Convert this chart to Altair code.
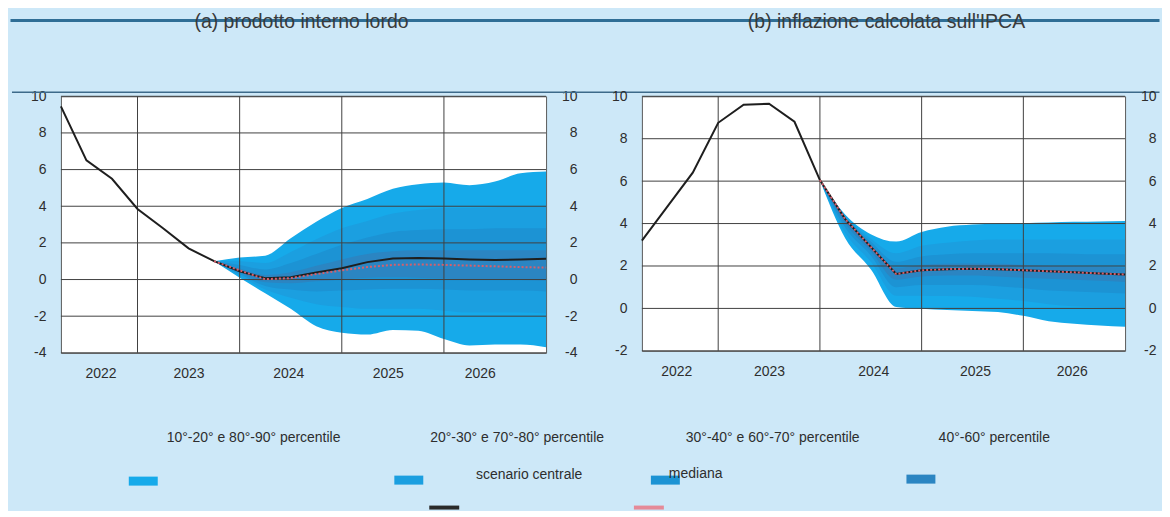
import altair as alt
import pandas as pd

# ---------------- data ----------------
quarters = list(range(20))            # 20 quarterly observations
years = ["2022", "2023", "2024", "2025", "2026"]
year_bounds = [3, 7, 11, 15]          # vertical grid lines (year boundaries)
a_year_label_pos = [1.55, 5.0, 8.9, 12.8, 16.4]
b_year_label_pos = [1.35, 5.0, 9.1, 13.1, 16.9]
a_yticks = [-4, -2, 0, 2, 4, 6, 8, 10]
b_yticks = [-2, 0, 2, 4, 6, 8, 10]

titles = ["(a) prodotto interno lordo", "(b) inflazione calcolata sull'IPCA"]

# (a) GDP
a_central = [9.45, 6.5, 5.5, 3.85, 2.8, 1.7, 1.0, 0.45, 0.07, 0.12, 0.38, 0.62,
             0.95, 1.15, 1.18, 1.15, 1.1, 1.06, 1.1, 1.14]
a_start = 6
a_median = [1.0, 0.5, 0.02, 0.08, 0.3, 0.5, 0.68, 0.8, 0.82, 0.8, 0.76, 0.72, 0.68, 0.65]
a_p10 = [1.0, 0.1, -0.75, -1.6, -2.55, -2.9, -3.0, -2.75, -2.8, -3.25, -3.6, -3.55, -3.55, -3.7]
a_p20 = [1.0, 0.2, -0.55, -1.0, -1.35, -1.5, -1.6, -1.6, -1.6, -1.7, -1.8, -1.8, -1.8, -1.85]
a_p30 = [1.0, 0.3, -0.35, -0.55, -0.65, -0.6, -0.55, -0.5, -0.5, -0.55, -0.6, -0.6, -0.6, -0.65]
a_p40 = [1.0, 0.4, -0.15, -0.2, -0.1, 0.0, 0.1, 0.12, 0.1, 0.05, 0.0, 0.0, -0.02, -0.05]
a_p60 = [1.0, 0.6, 0.25, 0.4, 0.75, 1.1, 1.4, 1.55, 1.6, 1.6, 1.6, 1.6, 1.6, 1.6]
a_p70 = [1.0, 0.8, 0.55, 0.9, 1.4, 1.9, 2.3, 2.6, 2.7, 2.75, 2.75, 2.8, 2.8, 2.8]
a_p80 = [1.0, 1.0, 0.9, 1.5, 2.2, 2.8, 3.2, 3.6, 3.8, 3.9, 3.9, 3.95, 4.0, 4.0]
a_p90 = [1.0, 1.2, 1.3, 2.25, 3.15, 3.9, 4.4, 4.95, 5.2, 5.3, 5.15, 5.35, 5.8, 5.9]

# (b) HICP inflation
b_central = [3.2, 4.8, 6.4, 8.75, 9.6, 9.65, 8.8, 6.05, 4.2, 2.9, 1.62, 1.8,
             1.85, 1.87, 1.85, 1.8, 1.75, 1.7, 1.65, 1.6]
b_start = 7
b_median = [6.05, 4.2, 2.9, 1.62, 1.8, 1.85, 1.87, 1.85, 1.8, 1.75, 1.7, 1.65, 1.6]
b_p10 = [6.05, 3.3, 1.85, 0.07, -0.02, -0.08, -0.12, -0.17, -0.35, -0.6, -0.72, -0.8, -0.87]
b_p20 = [6.05, 3.55, 2.2, 0.6, 0.6, 0.58, 0.55, 0.45, 0.35, 0.2, 0.1, 0.05, 0.0]
b_p30 = [6.05, 3.8, 2.5, 1.0, 1.1, 1.1, 1.1, 1.05, 0.95, 0.85, 0.8, 0.75, 0.7]
b_p40 = [6.05, 4.0, 2.7, 1.35, 1.5, 1.55, 1.55, 1.5, 1.45, 1.4, 1.35, 1.3, 1.25]
b_p60 = [6.05, 4.25, 3.0, 1.9, 2.05, 2.1, 2.12, 2.1, 2.05, 2.0, 1.98, 1.95, 1.92]
b_p70 = [6.05, 4.3, 3.15, 2.2, 2.45, 2.55, 2.6, 2.6, 2.6, 2.6, 2.58, 2.55, 2.55]
b_p80 = [6.05, 4.35, 3.3, 2.6, 2.95, 3.1, 3.2, 3.25, 3.25, 3.25, 3.25, 3.25, 3.25]
b_p90 = [6.05, 4.42, 3.5, 3.15, 3.6, 3.85, 3.95, 4.0, 4.02, 4.05, 4.08, 4.1, 4.12]

legend_band_labels = ["10°-20° e 80°-90° percentile", "20°-30° e 70°-80° percentile",
                      "30°-40° e 60°-70° percentile", "40°-60° percentile"]
legend_line_labels = ["scenario centrale", "mediana"]

# ---------------- styles / layout ----------------
BG = "#cde8f8"
FONT = "Liberation Sans"
TXT = "#2e2e2e"
GRID = "#404040"
BAND_COLORS = ["#16aaea", "#1b9fe0", "#1c93d4", "#2b85c2"]
LINE_BLACK = "#1e1e1e"
LINE_RED = "#d6606c"
HEADER_BLUE = "#2f6e96"

label_expr = "'" + years[-1] + "'"
for bnd, yr in reversed(list(zip(year_bounds, years[:-1]))):
    label_expr = f"datum.value < {bnd} ? '{yr}' : " + label_expr
ylabel_expr = "datum.value < 0 ? '-' + abs(datum.value) : '' + datum.value"

# legend layout, in pixels relative to the top-left corner of panel (a)'s plot
LEG_DY = 305
band_label_x = [193, 457, 713, 935]
band_label_y = 37
sw_x = [68, 334, 591, 847]
sw_y = [76, 75, 75, 74]
SW_W, SW_H = 29, 9
line_label_pos = [(469, 74, "center"), (609, 73, "left")]
line_sw_pos = [(369, 105), (574, 105)]
line_sw_colors = ["#2a2a2a", "#e58a98"]


def one_row(**kw):
    return pd.DataFrame({k: [v] for k, v in kw.items()})


def legend_layers():
    out = []
    for x, y, c in zip(sw_x, sw_y, BAND_COLORS):
        out.append(alt.Chart(one_row(k=0)).mark_rect(color=c).encode(
            x=alt.value(x), x2=alt.value(x + SW_W),
            y=alt.value(y + LEG_DY), y2=alt.value(y + LEG_DY + SW_H)))
    for (x, y), c in zip(line_sw_pos, line_sw_colors):
        out.append(alt.Chart(one_row(k=0)).mark_rect(color=c).encode(
            x=alt.value(x), x2=alt.value(x + 30),
            y=alt.value(y + LEG_DY), y2=alt.value(y + LEG_DY + 4)))
    for t, x in zip(legend_band_labels, band_label_x):
        out.append(alt.Chart(one_row(t=t)).mark_text(
            font=FONT, fontSize=14, color=TXT, align="center", baseline="middle"
        ).encode(text="t:N", x=alt.value(x), y=alt.value(band_label_y + LEG_DY)))
    for t, (x, y, al) in zip(legend_line_labels, line_label_pos):
        out.append(alt.Chart(one_row(t=t)).mark_text(
            font=FONT, fontSize=14, color=TXT, align=al, baseline="middle"
        ).encode(text="t:N", x=alt.value(x), y=alt.value(y + LEG_DY)))
    return out


def panel(central, start, median, pcts, ydom, yticks, xlab_pos, w, h, title, title_x, header):
    xscale = alt.Scale(domain=[0, len(central) - 1], nice=False, zero=False)
    yscale = alt.Scale(domain=ydom, nice=False, zero=False)
    xaxis = alt.Axis(values=xlab_pos, labelExpr=label_expr, ticks=False, domain=False,
                     grid=False, labelFont=FONT, labelFontSize=14, labelColor=TXT,
                     labelPadding=14, labelFlush=False, labelOverlap=False, title="")
    yleft = alt.Axis(values=yticks, orient="left", ticks=False, domain=False, grid=False,
                     labelFont=FONT, labelFontSize=14, labelColor=TXT, labelPadding=15,
                     labelFlush=False, labelExpr=ylabel_expr, title="")
    yright = alt.Axis(values=yticks, orient="right", ticks=False, domain=False, grid=False,
                      labelFont=FONT, labelFontSize=14, labelColor=TXT, labelPadding=31,
                      labelAlign="right", labelFlush=False, labelExpr=ylabel_expr, title="")
    qf = quarters[start:]
    layers = []
    pairs = [(pcts[0], pcts[7]), (pcts[1], pcts[6]), (pcts[2], pcts[5]), (pcts[3], pcts[4])]
    for k, (lo, hi) in enumerate(pairs):
        df = pd.DataFrame({"q": qf, "lo": lo, "hi": hi})
        layers.append(
            alt.Chart(df).mark_area(color=BAND_COLORS[k], opacity=1, interpolate="monotone").encode(
                x=alt.X("q:Q", scale=xscale, axis=xaxis),
                y=alt.Y("lo:Q", scale=yscale, axis=yleft if k == 0 else None),
                y2="hi:Q",
            )
        )
    # grid lines drawn over the fan
    layers.append(
        alt.Chart(pd.DataFrame({"g": yticks})).mark_rule(color=GRID, strokeWidth=1).encode(
            y=alt.Y("g:Q", scale=yscale, axis=None)
        )
    )
    layers.append(
        alt.Chart(pd.DataFrame({"q": year_bounds})).mark_rule(color=GRID, strokeWidth=1).encode(
            x=alt.X("q:Q", scale=xscale, axis=xaxis)
        )
    )
    layers.append(
        alt.Chart(pd.DataFrame({"q": quarters, "v": central})).mark_line(
            color=LINE_BLACK, strokeWidth=2).encode(
            x=alt.X("q:Q", scale=xscale, axis=xaxis),
            y=alt.Y("v:Q", scale=yscale, axis=yright),
        )
    )
    layers.append(
        alt.Chart(pd.DataFrame({"q": qf, "v": median})).mark_line(
            color=LINE_RED, strokeWidth=2, strokeDash=[2, 2]).encode(
            x=alt.X("q:Q", scale=xscale, axis=xaxis),
            y=alt.Y("v:Q", scale=yscale, axis=None),
        )
    )
    if header:
        # invisible anchor at the top-left corner of the page area
        layers.append(
            alt.Chart(one_row(k=0)).mark_rule(color=BG, strokeWidth=1).encode(
                x=alt.value(-51.5), x2=alt.value(0), y=alt.value(-86.5))
        )
        layers.append(
            alt.Chart(one_row(k=0)).mark_rule(color=HEADER_BLUE, strokeWidth=3).encode(
                x=alt.value(-50.5), x2=alt.value(1100.5), y=alt.value(-76))
        )
        layers.append(
            alt.Chart(one_row(k=0)).mark_rule(color="#3d6a8a", strokeWidth=1.5).encode(
                x=alt.value(-49), x2=alt.value(1100.5), y=alt.value(-4))
        )
        layers.extend(legend_layers())
    layers.append(
        alt.Chart(one_row(t=title)).mark_text(
            font=FONT, fontSize=19.5, color="#3a3a3a", align="center", baseline="alphabetic"
        ).encode(text="t:N", x=alt.value(title_x), y=alt.value(-68))
    )
    return alt.layer(*layers).resolve_axis(y="independent").properties(
        width=w, height=h,
        view=alt.ViewBackground(fill="white", stroke="#5a5a5a", strokeWidth=1),
    )


pa = panel(a_central, a_start, a_median,
           [a_p10, a_p20, a_p30, a_p40, a_p60, a_p70, a_p80, a_p90],
           [-4, 10], a_yticks, a_year_label_pos, 486, 257, titles[0], 241, True)
pb = panel(b_central, b_start, b_median,
           [b_p10, b_p20, b_p30, b_p40, b_p60, b_p70, b_p80, b_p90],
           [-2, 10], b_yticks, b_year_label_pos, 484, 255, titles[1], 245, False)

chart = alt.hconcat(pa, pb, spacing=96, bounds="flush").properties(
    background=BG, padding=0
).configure_view(stroke="transparent")

chart.save("out.html", embed_options={"renderer": "svg", "actions": False})
